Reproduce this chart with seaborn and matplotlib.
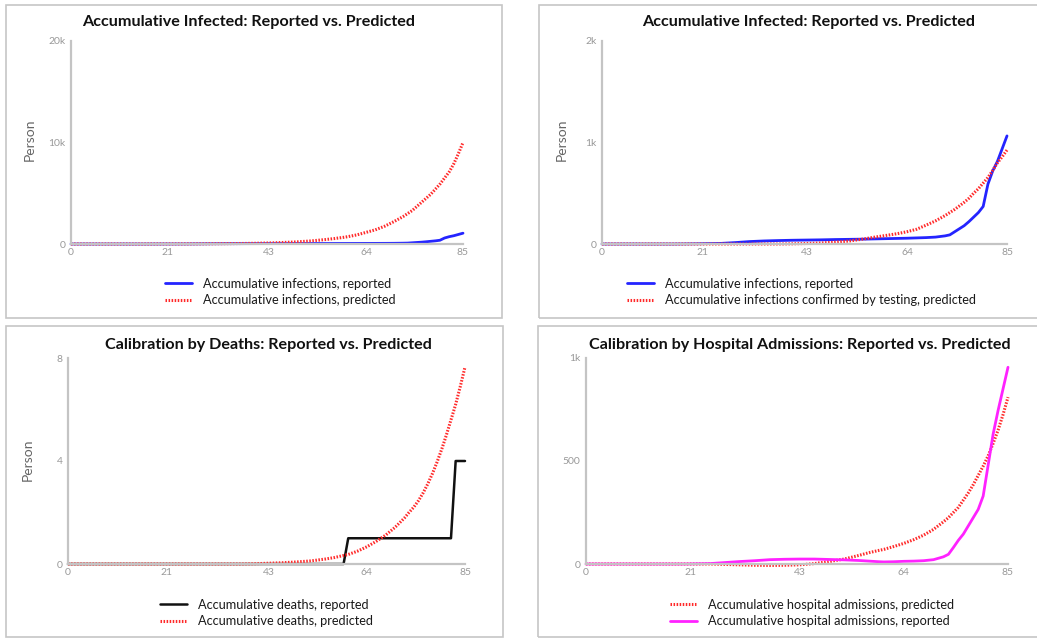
import matplotlib
matplotlib.use("Agg")
import matplotlib.pyplot as plt
import seaborn as sns
from matplotlib.patches import Rectangle

# Days sampled along the 0-85 day horizon
days = [0, 5, 10, 15, 20, 25, 28, 31, 34, 37, 40, 43, 46, 49, 52, 55, 57, 59, 60,
        62, 64, 66, 68, 70, 72, 73, 74, 75, 76, 77, 78, 79, 80, 81, 82, 83, 84, 85]

infections_reported = [0, 0, 0, 0, 2, 6, 14, 24, 30, 34, 37, 39, 41, 44, 46, 48, 50, 52, 53,
                       55, 57, 60, 63, 68, 80, 90, 120, 150, 180, 220, 265, 310, 370, 590, 720, 815, 940, 1065]
infections_predicted = [0, 0, 0, 0, 5, 10, 15, 25, 35, 50, 70, 100, 150, 210, 300, 430, 530, 650, 720,
                        900, 1150, 1400, 1750, 2200, 2700, 3000, 3300, 3700, 4100, 4500, 4900, 5400, 5900,
                        6500, 7100, 7900, 8900, 10000]
confirmed_predicted = [0, 0, 0, 0, 0, 0, 0, 0, 0, 0, 2, 5, 10, 18, 30, 50, 66, 80, 87,
                       102, 121, 145, 185, 228, 280, 310, 340, 375, 410, 450, 500, 545, 600, 655, 725, 800, 860, 926]
deaths_reported = [0, 0, 0, 0, 0, 0, 0, 0, 0, 0, 0, 0, 0, 0, 0, 0, 0, 0, 1,
                   1, 1, 1, 1, 1, 1, 1, 1, 1, 1, 1, 1, 1, 1, 1, 1, 4, 4, 4]
deaths_predicted = [0, 0, 0, 0, 0, 0, 0, 0, 0, 0, 0.01, 0.03, 0.05, 0.08, 0.12, 0.19, 0.25, 0.33, 0.37,
                    0.5, 0.67, 0.88, 1.12, 1.42, 1.78, 2.0, 2.2, 2.45, 2.75, 3.1, 3.5, 3.95, 4.45,
                    5.0, 5.6, 6.2, 6.9, 7.65]
hospital_predicted = [0, 0, 0, 0, 0, 0, -2, -4, -6, -7, -6, -4, 2, 12, 24, 42, 55, 66, 71,
                      85, 100, 118, 140, 168, 205, 225, 250, 275, 310, 345, 385, 430, 475, 525, 585, 650, 725, 810]
hospital_reported = [0, 0, 0, 0, 0, 2, 7, 12, 16, 21, 23, 24, 24, 22, 20, 17, 14, 11, 10,
                     11, 13, 14, 16, 21, 35, 47, 80, 115, 145, 185, 225, 265, 330, 480, 630, 745, 850, 955]

x_ticks = [0, 21, 43, 64, 85]
titles = ["Accumulative Infected: Reported vs. Predicted",
          "Accumulative Infected: Reported vs. Predicted",
          "Calibration by Deaths: Reported vs. Predicted",
          "Calibration by Hospital Admissions: Reported vs. Predicted"]

sns.set_style("white")
plt.rcParams['font.family'] = ['Lato', 'DejaVu Sans']
plt.rcParams['lines.scale_dashes'] = False

W, H = 1037, 639
fig = plt.figure(figsize=(W / 100, H / 100), dpi=100)

def px_axes(left, top, right, bottom):
    return fig.add_axes([left / W, 1 - bottom / H, (right - left) / W, (bottom - top) / H])

# panel frames
for (x0, y0, x1, y1) in [(6, 5, 502, 318), (539, 5, 1045, 318), (6, 326, 503, 637), (538, 326, 1045, 637)]:
    fig.patches.append(Rectangle((x0 / W, 1 - y1 / H), (x1 - x0) / W, (y1 - y0) / H,
                                 transform=fig.transFigure, fill=False, ec="#c6c6c6", lw=1.2))

dotted = (0, (1.1, 1.1))
RED = "#ff2a2a"

def style(ax, ymax, yticks, ylabels):
    ax.set_xlim(0, 85)
    ax.set_ylim(0, ymax)
    ax.set_xticks(x_ticks)
    ax.set_xticklabels([str(t) for t in x_ticks])
    ax.set_yticks(yticks)
    ax.set_yticklabels(ylabels)
    ax.tick_params(length=0, labelsize=7.5, colors="#999999")
    ax.tick_params(axis="x", pad=3)
    ax.tick_params(axis="y", pad=4)
    for s in ["top", "right"]:
        ax.spines[s].set_visible(False)
    for s in ["left", "bottom"]:
        ax.spines[s].set_color("#c4c4c4")
        ax.spines[s].set_linewidth(1.6)
    ax.set_xlabel("")
    ax.set_ylabel("")

def legend(ax, x, y):
    ax.legend(loc="center left", bbox_to_anchor=(x / W, 1 - y / H), bbox_transform=fig.transFigure,
              frameon=False, fontsize=9.2, handlelength=2.1, handletextpad=0.85, labelspacing=0.33,
              borderpad=0, borderaxespad=0, labelcolor="#1a1a1a")

# top-left
ax1 = px_axes(71, 41, 463, 244)
sns.lineplot(x=days, y=infections_reported, color="#2424ff", lw=2, ax=ax1, clip_on=False,
             label="Accumulative infections, reported")
sns.lineplot(x=days, y=infections_predicted, color=RED, lw=2.2, linestyle=dotted, ax=ax1, clip_on=False,
             label="Accumulative infections, predicted")
style(ax1, 20000, [0, 10000, 20000], ["0", "10k", "20k"])
legend(ax1, 165, 292)

# top-right
ax2 = px_axes(602, 41, 1007, 244)
sns.lineplot(x=days, y=infections_reported, color="#2424ff", lw=2, ax=ax2, clip_on=False,
             label="Accumulative infections, reported")
sns.lineplot(x=days, y=confirmed_predicted, color=RED, lw=2.2, linestyle=dotted, ax=ax2, clip_on=False,
             label="Accumulative infections confirmed by testing, predicted")
style(ax2, 2000, [0, 1000, 2000], ["0", "1k", "2k"])
legend(ax2, 627, 292)

# bottom-left
ax3 = px_axes(68, 358, 465, 564)
sns.lineplot(x=days, y=deaths_reported, color="#111111", lw=1.8, ax=ax3, clip_on=False,
             label="Accumulative deaths, reported")
sns.lineplot(x=days, y=deaths_predicted, color=RED, lw=2.2, linestyle=dotted, ax=ax3, clip_on=False,
             label="Accumulative deaths, predicted")
style(ax3, 8, [0, 4, 8], ["0", "4", "8"])
legend(ax3, 160, 613)

# bottom-right
ax4 = px_axes(586, 358, 1008, 564)
sns.lineplot(x=days, y=hospital_predicted, color=RED, lw=2.2, linestyle=dotted, ax=ax4, clip_on=False,
             label="Accumulative hospital admissions, predicted")
sns.lineplot(x=days, y=hospital_reported, color="#ff22ff", lw=2, ax=ax4, clip_on=False,
             label="Accumulative hospital admissions, reported")
style(ax4, 1000, [0, 500, 1000], ["0", "500", "1k"])
legend(ax4, 670, 613)

# titles and y labels
for (tx, ty), t in zip([(249, 22), (809, 22), (268, 345), (800, 345)], titles):
    fig.text(tx / W, 1 - ty / H, t, ha="center", va="center", fontsize=11.6, fontweight="bold", color="#111111")
for (lx, ly) in [(30, 140), (562, 140), (28, 460)]:
    fig.text(lx / W, 1 - ly / H, "Person", rotation=90, ha="center", va="center", fontsize=10, color="#666666")

fig.savefig("out.png", dpi=100)
